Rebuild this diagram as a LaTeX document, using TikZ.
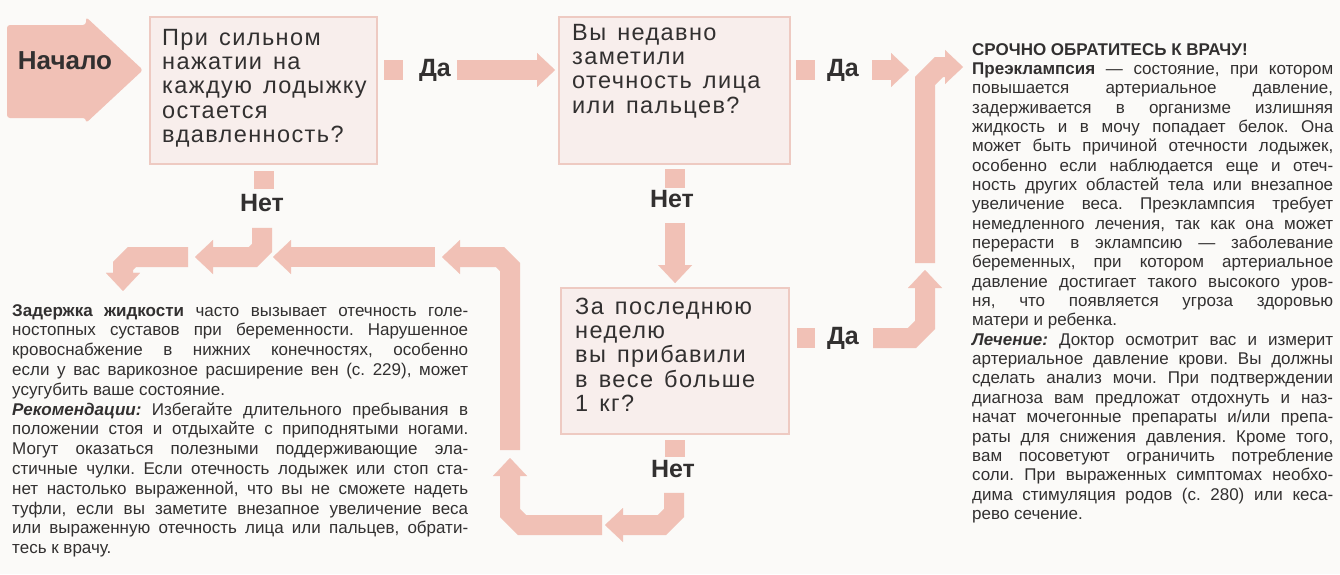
\documentclass[tikz,border=0pt]{standalone}
\usepackage{fontspec}
\setmainfont{Liberation Sans}
\newfontfamily\boxfont[LetterSpace=6,WordSpace=1.4]{Liberation Sans}
\usetikzlibrary{arrows.meta,calc}
\definecolor{band}{RGB}{241,193,182}
\definecolor{boxfill}{RGB}{248,238,236}
\definecolor{boxline}{RGB}{238,202,194}
\definecolor{ink}{RGB}{50,48,48}
\definecolor{bg}{RGB}{251,250,248}
\tikzset{
  band/.style={draw=band, line width=20pt, line join=miter},
  headed/.style={band, -{Triangle[width=34pt,length=18pt,line width=0.1pt]}},
  qbox/.style={draw=boxline, fill=boxfill, line width=2.2pt, anchor=north west, inner sep=0pt},
  qtext/.style={anchor=base west, inner sep=0pt, text=ink},
  lbl/.style={text=ink, font=\bfseries\fontsize{25}{25}\selectfont, inner sep=0pt},
  para/.style={anchor=base west, inner sep=0pt, text=ink},
}
\newcommand{\qfont}{\boxfont\fontsize{23.5}{24.4}\selectfont}
\newcommand{\pfont}[1]{\fontsize{17}{#1}\selectfont\frenchspacing\tolerance=9999\hyphenpenalty=10000\parindent=0pt}
\begin{document}
\begin{tikzpicture}[x=1pt,y=-1pt]
\useasboundingbox (0,0) rectangle (1340,574);
\fill[bg] (0,0) rectangle (1340,574);

% start arrow
\fill[fill=band, rounded corners=3pt] (7,25) -- (86,25) -- (86,17) -- (143,70) -- (86,123) -- (86,118) -- (7,118) -- cycle;
\node[lbl, font=\bfseries\fontsize{26}{26}\selectfont] (start) at (65,61) {Начало};

% question boxes
\node[qbox, minimum width=227pt, minimum height=147pt] (b1) at (149,16) {};
\node[qbox, minimum width=231pt, minimum height=147pt] (b2) at (558,16) {};
\node[qbox, minimum width=228pt, minimum height=146pt] (b3) at (560,287) {};

\node[qtext] (q1) at ($(b1.north west)+(13,29)$) {\parbox[t]{215pt}{\qfont При сильном\\нажатии на\\каждую лодыжку\\остается\\вдавленность?}};
\node[qtext] (q2) at ($(b2.north west)+(14,24)$) {\parbox[t]{215pt}{\qfont Вы недавно\\заметили\\отечность лица\\или пальцев?}};
\node[qtext] (q3) at ($(b3.north west)+(15,27)$) {\parbox[t]{210pt}{\qfont За последнюю\\неделю\\вы прибавили\\в весе больше\\1 кг?}};

% labels
\node[lbl] (da1) at (435,70) {Да};
\node[lbl] (da2) at (843,70) {Да};
\node[lbl] (da3) at (843,338) {Да};
\node[lbl] (net1) at (262,203) {Нет};
\node[lbl] (net2) at (672,199) {Нет};
\node[lbl] (net3) at (673,469) {Нет};

% text blocks
\node[para] (warn) at (972,55) {\parbox[t]{361pt}{\pfont{19.35}%
\textbf{СРОЧНО ОБРАТИТЕСЬ К ВРАЧУ!}\par
\textbf{Преэклампсия} — состояние, при котором\linebreak
повышается артериальное давление,\linebreak
задерживается в организме излишняя\linebreak
жидкость и в мочу попадает белок. Она\linebreak
может быть причиной отечности лодыжек,\linebreak
особенно если наблюдается еще и отеч-\linebreak
ность других областей тела или внезапное\linebreak
увеличение веса. Преэклампсия требует\linebreak
немедленного лечения, так как она может\linebreak
перерасти в эклампсию — заболевание\linebreak
беременных, при котором артериальное\linebreak
давление достигает такого высокого уров-\linebreak
ня, что появляется угроза здоровью\linebreak
матери и ребенка.\par
\textbf{\textit{Лечение:}} Доктор осмотрит вас и измерит\linebreak
артериальное давление крови. Вы должны\linebreak
сделать анализ мочи. При подтверждении\linebreak
диагноза вам предложат отдохнуть и наз-\linebreak
начат мочегонные препараты и/или препа-\linebreak
раты для снижения давления. Кроме того,\linebreak
вам посоветуют ограничить потребление\linebreak
соли. При выраженных симптомах необхо-\linebreak
дима стимуляция родов (с. 280) или кеса-\linebreak
рево сечение.}};

\node[para] (delay) at (12,316) {\parbox[t]{456pt}{\pfont{19.8}%
\textbf{Задержка жидкости} часто вызывает отечность голе-\linebreak
ностопных суставов при беременности. Нарушенное\linebreak
кровоснабжение в нижних конечностях, особенно\linebreak
если у вас варикозное расширение вен (с. 229), может\linebreak
усугубить ваше состояние.\par
\textbf{\textit{Рекомендации:}} Избегайте длительного пребывания в\linebreak
положении стоя и отдыхайте с приподнятыми ногами.\linebreak
Могут оказаться полезными поддерживающие эла-\linebreak
стичные чулки. Если отечность лодыжек или стоп ста-\linebreak
нет настолько выраженной, что вы не сможете надеть\linebreak
туфли, если вы заметите внезапное увеличение веса\linebreak
или выраженную отечность лица или пальцев, обрати-\linebreak
тесь к врачу.}};

% named bend points
\coordinate (riseBot) at (925,263);
\coordinate (riseTop) at (925,81);
\coordinate (riseTurn) at (939,67);
\coordinate (daUpA) at (912,338);
\coordinate (daUpB) at (925,325);
\coordinate (n1A) at (262,248);
\coordinate (n1B) at (253,257);
\coordinate (leftStart) at (188,257);
\coordinate (leftA) at (132,257);
\coordinate (leftB) at (123,266);
\coordinate (midStart) at (435,257);
\coordinate (midEnd) at (273,257);
\coordinate (upStart) at (510,450);
\coordinate (upA) at (510,267);
\coordinate (upB) at (500,257);
\coordinate (upEnd) at (442,257);
\coordinate (botStart) at (602,525);
\coordinate (botA) at (522,525);
\coordinate (botB) at (510,513);
\coordinate (botEnd) at (510,458);
\coordinate (n3A) at (674,513);
\coordinate (n3B) at (662,525);
\coordinate (n3End) at (605,525);

% connectors: first Да
\draw[band] ($(b1.east|-da1)+(6,0)$) -- ++(19,0);
\draw[headed] ($(da1.east)+(6,0)$) -- ($(b2.west|-da1)+(-3,0)$);
% second Да, to the warning text
\draw[band] ($(b2.east|-da2)+(5,0)$) -- ++(19,0);
\draw[headed] ($(da2.east)+(13,0)$) -- ($(riseTop|-da2)+(-16,0)$);
\draw[headed] (riseBot) -- (riseTop) -- (riseTurn) -- ($(warn.west|-riseTurn)+(-9,0)$);
% third Да
\draw[band] ($(b3.east|-da3)+(7,0)$) -- ++(18,0);
\draw[headed] ($(da3.east)+(14,0)$) -- (daUpA) -- (daUpB) -- ($(riseBot)+(0,7)$);
% Нет from box 2
\draw[band] ($(b2.south)+(0,4)$) -- ++(0,19);
\draw[headed] ($(b3.north|-net2.south)+(0,15)$) -- ($(b3.north)+(0,-4)$);
% Нет from box 1
\draw[band] ($(b1.south)+(0,6)$) -- ++(0,18);
\draw[headed] ($(n1A|-net1.south)+(0,16)$) -- (n1A) -- (n1B) -- (195,257);
\draw[headed] (leftStart) -- (leftA) -- (leftB) -- ($(delay.north west)+(111,-13)$);
% loop back from box 3
\draw[band] ($(b3.south)+(0,5)$) -- ++(0,17);
\draw[headed] ($(n3A|-net3.south)+(0,15)$) -- (n3A) -- (n3B) -- (n3End);
\draw[headed] (botStart) -- (botA) -- (botB) -- (botEnd);
\draw[headed] (upStart) -- (upA) -- (upB) -- (upEnd);
\draw[headed] (midStart) -- (midEnd);
\end{tikzpicture}
\end{document}
